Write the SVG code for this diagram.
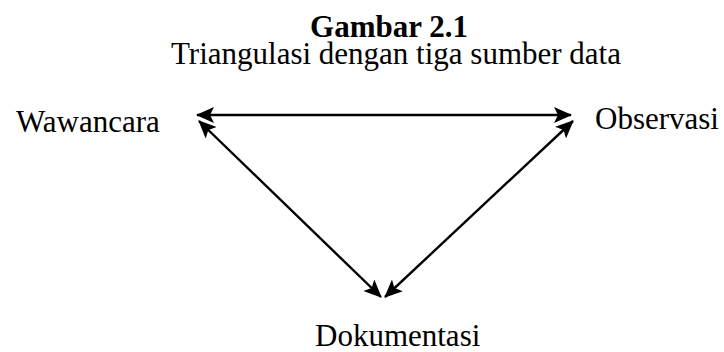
<svg xmlns="http://www.w3.org/2000/svg" width="724" height="352" viewBox="0 0 724 352">
  <style>
    text { font-family: "Liberation Serif", "Times New Roman", serif; font-size: 31px; fill: #000; }
    .title { font-weight: bold; }
    .link { stroke: #000; stroke-width: 2.4; fill: none; marker-start: url(#head); marker-end: url(#head); }
  </style>
  <defs>
    <marker id="head" viewBox="0 0 18 16" refX="17" refY="8" markerWidth="18" markerHeight="16" markerUnits="userSpaceOnUse" orient="auto-start-reverse">
      <path d="M0,0 L18,8 L0,16 L4,8 Z" fill="#000"/>
    </marker>
  </defs>
  <rect width="724" height="352" fill="#fff"/>
  <text class="title" x="389" y="37" text-anchor="middle">Gambar 2.1</text>
  <text x="396" y="64" text-anchor="middle">Triangulasi dengan tiga sumber data</text>
  <g id="wawancara"><text x="16" y="132">Wawancara</text></g>
  <g id="observasi"><text x="595" y="129">Observasi</text></g>
  <g id="dokumentasi"><text x="315" y="346">Dokumentasi</text></g>
  <g id="connectors">
    <line class="link" x1="197" y1="115" x2="571" y2="115"/>
    <line class="link" x1="199" y1="121" x2="381" y2="297"/>
    <line class="link" x1="573" y1="121" x2="385" y2="297"/>
  </g>
</svg>
